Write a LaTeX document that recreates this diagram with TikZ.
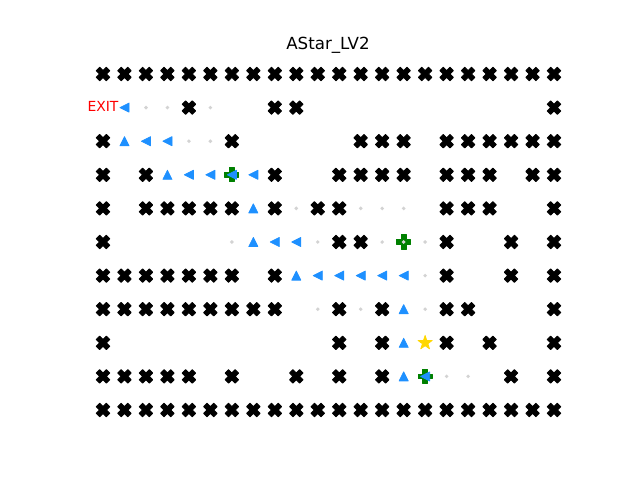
\documentclass[tikz,border=0pt]{standalone}
\usepackage{fontspec}
\setmainfont{DejaVu Sans}
\definecolor{pathblue}{HTML}{1E90FF}
\definecolor{markgreen}{HTML}{008000}
\definecolor{goldc}{HTML}{FFD700}
\definecolor{dotgrey}{HTML}{D3D3D3}
\definecolor{exitred}{HTML}{FF0000}
\tikzset{
  wallx/.pic={\filldraw[black, line width=0.7pt, line join=round, x=1.7pt, y=1.7pt, rotate=45]
    (-1,-3) -- (1,-3) -- (1,-1) -- (3,-1) -- (3,1) -- (1,1) -- (1,3) -- (-1,3) -- (-1,1) -- (-3,1) -- (-3,-1) -- (-1,-1) -- cycle;},
  goalplus/.pic={\filldraw[markgreen, line width=0.7pt, line join=round, x=1.7pt, y=1.7pt]
    (-1,-3) -- (1,-3) -- (1,-1) -- (3,-1) -- (3,1) -- (1,1) -- (1,3) -- (-1,3) -- (-1,1) -- (-3,1) -- (-3,-1) -- (-1,-1) -- cycle;},
  uptri/.pic={\filldraw[pathblue, line width=0.5pt, line join=round, x=1pt, y=1pt]
    (0,3.3) -- (-3.3,-3.3) -- (3.3,-3.3) -- cycle;},
  lefttri/.pic={\filldraw[pathblue, line width=0.5pt, line join=round, x=1pt, y=1pt]
    (-3.3,0) -- (3.3,-3.3) -- (3.3,3.3) -- cycle;},
  greydot/.pic={\fill[dotgrey, x=1pt, y=1pt] (0,0) circle (1.4);},
  goldstar/.pic={\filldraw[goldc, line width=0.5pt, line join=round, x=1pt, y=1pt]
    (90:5.4) -- (126:2.1) -- (162:5.4) -- (198:2.1) -- (234:5.4) -- (270:2.1) -- (306:5.4) -- (342:2.1) -- (18:5.4) -- (54:2.1) -- cycle;},
  titletext/.style={font=\fontsize{12}{14}\selectfont, anchor=base, inner sep=0pt},
  exittext/.style={font=\fontsize{10}{12}\selectfont, text=exitred, inner sep=0pt, anchor=center}
}
\begin{document}
\begin{tikzpicture}[x=0.72pt, y=-0.72pt]
\useasboundingbox (0,0) rectangle (640,480);
\node[titletext] (title) at (328,49.3) {AStar\_LV2};
\begin{scope}[shift={(103,74)}, x=15.463pt, y=-24.192pt]
  % walls
  \foreach \r/\cols in {
      0/{0,1,...,21},
      1/{4,8,9,21},
      2/{0,6,12,13,14,16,17,18,19,20,21},
      3/{0,2,8,11,12,13,14,16,17,18,20,21},
      4/{0,2,3,4,5,6,8,10,11,16,17,18,21},
      5/{0,11,12,16,19,21},
      6/{0,1,2,3,4,5,6,8,16,19,21},
      7/{0,1,2,3,4,5,6,7,8,11,13,16,17,21},
      8/{0,11,13,16,18,21},
      9/{0,1,2,3,4,6,9,11,13,19,21},
      10/{0,1,...,21}} {
    \foreach \c in \cols { \pic (w-\c-\r) at (\c,\r) {wallx}; }
  }
  % green plus markers
  \foreach \c/\r in {6/3, 14/5, 15/9} { \pic (g-\c-\r) at (\c,\r) {goalplus}; }
  % grey visited dots
  \foreach \c/\r in {2/1, 3/1, 5/1, 4/2, 5/2, 9/4, 12/4, 13/4, 14/4, 6/5, 10/5, 13/5, 14/5, 15/5, 15/6, 10/7, 12/7, 15/7, 16/9, 17/9}
    { \pic (d-\c-\r) at (\c,\r) {greydot}; }
  % path arrows
  \foreach \c/\r in {1/2, 3/3, 7/4, 7/5, 9/6, 14/7, 14/8, 14/9}
    { \pic (u-\c-\r) at (\c,\r) {uptri}; }
  \foreach \c/\r in {1/1, 2/2, 3/2, 4/3, 5/3, 6/3, 7/3, 8/5, 9/5, 10/6, 11/6, 12/6, 13/6, 14/6, 15/9}
    { \pic (l-\c-\r) at (\c,\r) {lefttri}; }
  % goal star
  \pic (star) at (15,8) {goldstar};
\end{scope}
\node[exittext] (exit) at (103,106.7) {EXIT};
\end{tikzpicture}
\end{document}
